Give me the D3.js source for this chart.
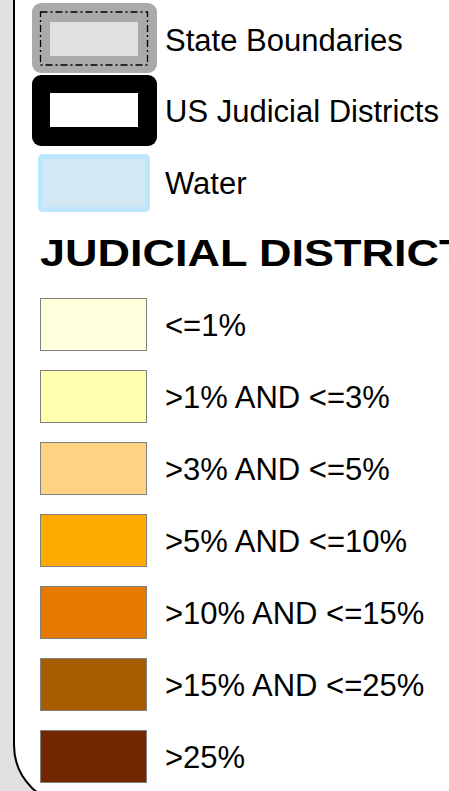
<!DOCTYPE html>
<html>
<head>
<meta charset="utf-8">
<script src="https://cdn.jsdelivr.net/npm/d3@7"></script>
<style>
  html, body { margin: 0; padding: 0; background: #e1e1e1; overflow: hidden; }
  svg { display: block; font-family: "Liberation Sans", Arial, sans-serif; }
</style>
</head>
<body>
<svg></svg>
<script>
// reference layers
var layers = ["State Boundaries", "US Judicial Districts", "Water"];

// judicial district classes
var classes = ["<=1%", ">1% AND <=3%", ">3% AND <=5%", ">5% AND <=10%", ">10% AND <=15%", ">15% AND <=25%", ">25%"];
var classColors = ["#ffffdc", "#ffffad", "#ffd382", "#ffaa00", "#e67a00", "#a85c00", "#732700"];

var title = "JUDICIAL DISTRICTS";

var width = 449, height = 791;

var svg = d3.select("svg")
  .attr("width", width)
  .attr("height", height);

// white panel with rounded bottom-left corner
svg.append("path")
  .attr("d", "M14,-5 V745 A60,60 0 0 0 74,805 H460 V-5 Z")
  .attr("fill", "#ffffff")
  .attr("stroke", "#000")
  .attr("stroke-width", 2);

var yLayer = d3.scalePoint()
  .domain(layers)
  .range([38, 183]);

var fontSize = 31;

// State Boundaries symbol
var s = yLayer("State Boundaries");
svg.append("rect")
  .attr("x", 32).attr("y", s - 35)
  .attr("width", 125).attr("height", 70)
  .attr("rx", 9)
  .attr("fill", "#aaaaaa");
svg.append("rect")
  .attr("x", 40.5).attr("y", s - 26)
  .attr("width", 107).attr("height", 53)
  .attr("fill", "none")
  .attr("stroke", "#000")
  .attr("stroke-width", 1.3)
  .attr("stroke-dasharray", "7,3,2,3");
svg.append("rect")
  .attr("x", 50).attr("y", s - 16)
  .attr("width", 88).attr("height", 34)
  .attr("fill", "#e0e0e0");

// Judicial districts symbol
var j = yLayer("US Judicial Districts");
svg.append("rect")
  .attr("x", 32).attr("y", j - 35.5)
  .attr("width", 125).attr("height", 71)
  .attr("rx", 9)
  .attr("fill", "#000");
svg.append("rect")
  .attr("x", 50).attr("y", j - 17.5)
  .attr("width", 88).attr("height", 34)
  .attr("fill", "#fff");

// Water symbol
var w = yLayer("Water");
svg.append("rect")
  .attr("x", 40.5).attr("y", w - 26.5)
  .attr("width", 107).attr("height", 53)
  .attr("rx", 2)
  .attr("fill", "#d2e8f4")
  .attr("stroke", "#bfe6ff")
  .attr("stroke-width", 5);

svg.selectAll("text.layer")
  .data(layers)
  .enter()
  .append("text")
  .attr("class", "layer")
  .attr("x", 165)
  .attr("y", function(d, i) { return yLayer(d) + fontSize * 0.36 + (i == 0 ? 2 : 0); })
  .attr("font-size", fontSize)
  .attr("fill", "#000")
  .text(function(d) { return d; });

// heading (wide bold face, runs past the panel edge)
svg.append("text")
  .attr("transform", "translate(40,266) scale(1.25,1)")
  .attr("font-size", 36)
  .attr("font-weight", "bold")
  .attr("fill", "#000")
  .text(title);

// class boxes
var yClass = d3.scaleBand()
  .domain(classes)
  .range([298, 783])
  .paddingInner(0.264)
  .paddingOuter(0);

svg.selectAll("rect.cls")
  .data(classes)
  .enter()
  .append("rect")
  .attr("class", "cls")
  .attr("x", 40.5)
  .attr("y", function(d) { return yClass(d) + 0.5; })
  .attr("width", 106)
  .attr("height", yClass.bandwidth() - 1)
  .attr("fill", function(d, i) { return classColors[i]; })
  .attr("stroke", "#808080")
  .attr("stroke-width", 1);

svg.selectAll("text.cls")
  .data(classes)
  .enter()
  .append("text")
  .attr("class", "cls")
  .attr("x", 165)
  .attr("y", function(d) { return yClass(d) + yClass.bandwidth() / 2 + fontSize * 0.36; })
  .attr("font-size", fontSize)
  .attr("fill", "#000")
  .text(function(d) { return d; });
</script>
</body>
</html>
